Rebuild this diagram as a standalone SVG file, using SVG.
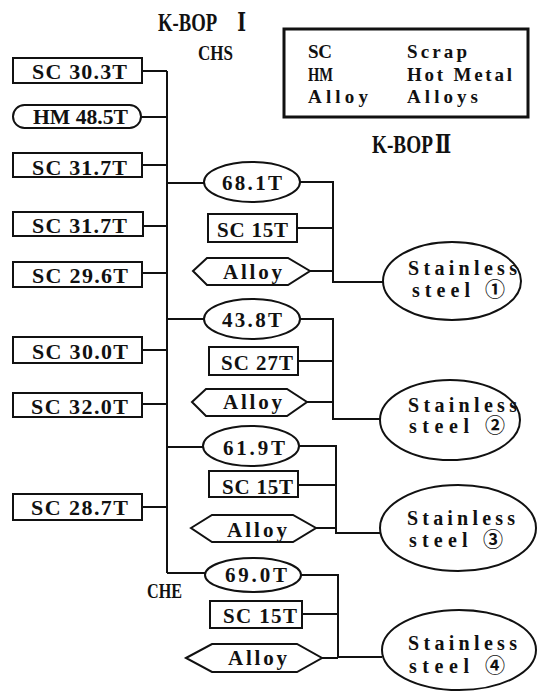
<svg xmlns="http://www.w3.org/2000/svg" width="540" height="693" viewBox="0 0 540 693">
  <style>
    .bg { fill: #ffffff; }
    .shape { fill: #ffffff; stroke: #111111; stroke-width: 2; }
    .legend { fill: #ffffff; stroke: #111111; stroke-width: 3; }
    .wire { fill: none; stroke: #111111; stroke-width: 2; }
    text { font-family: "Liberation Serif", "DejaVu Serif", "Noto Sans CJK SC", serif; font-weight: bold; fill: #111111; }
    .lbl { font-size: 22px; }
    .mid { font-size: 21px; }
    .big { font-size: 20px; }
    .leg { font-size: 19px; }
    .head { font-size: 26px; }
    .tag { font-size: 20px; }
  </style>
  <rect class="bg" x="0" y="0" width="540" height="693"/>

  <!-- connectors -->
  <g id="connectors">
    <!-- charge trunk -->
    <path class="wire" d="M167 71 V573"/>
    <path class="wire" d="M142 71 H167 M141 117 H167 M142 165 H167 M143 226 H167 M142 273 H167 M142 350 H167 M142 404 H167 M142 507 H167"/>
    <path class="wire" d="M167 183 H204 M167 319 H204 M167 447 H203 M167 573 H205"/>
    <!-- heat 1 -->
    <path class="wire" d="M300 182 H333 V282 H383 M297 228 H333 M310 271 H333"/>
    <!-- heat 2 -->
    <path class="wire" d="M300 319 H333 V419 H380 M298 361 H333 M307 402 H333"/>
    <!-- heat 3 -->
    <path class="wire" d="M299 446 H336 V533 H380 M298 485 H336 M316 528 H336"/>
    <!-- heat 4 -->
    <path class="wire" d="M301 575 H338 V657 H382 M302 614 H338 M322 658 H338"/>
  </g>

  <!-- headings (condensed horizontally) -->
  <g id="titles">
    <text class="head" transform="translate(158 31) scale(0.72 1)" x="0" y="0">K-BOP<tspan x="110">Ⅰ</tspan></text>
    <text class="tag" x="198" y="60" textLength="35" lengthAdjust="spacingAndGlyphs">CHS</text>
    <text class="head" transform="translate(372 153) scale(0.74 1)" x="0" y="0">K-BOP<tspan x="85">Ⅱ</tspan></text>
    <text class="tag" x="147" y="598" textLength="35" lengthAdjust="spacingAndGlyphs">CHE</text>
  </g>

  <!-- legend -->
  <g id="legend">
    <rect class="legend" x="284" y="29" width="244" height="88"/>
    <text class="leg" x="308" y="58" textLength="24">SC</text>
    <text class="leg" x="308" y="81" textLength="25" lengthAdjust="spacingAndGlyphs">HM</text>
    <text class="leg" x="308" y="103" textLength="60">Alloy</text>
    <text class="leg" x="407" y="58" textLength="60">Scrap</text>
    <text class="leg" x="407" y="81" textLength="105">Hot Metal</text>
    <text class="leg" x="407" y="103" textLength="71">Alloys</text>
  </g>

  <!-- charge materials -->
  <g id="sc-30-3">
    <rect class="shape" x="13" y="58" width="129" height="25"/>
    <text class="lbl" x="32" y="79" textLength="95">SC 30.3T</text>
  </g>
  <g id="hm-48-5">
    <rect class="shape" x="13" y="105" width="128" height="23" rx="11.5"/>
    <text class="lbl" x="33" y="124" textLength="95" lengthAdjust="spacingAndGlyphs">HM 48.5T</text>
  </g>
  <g id="sc-31-7a">
    <rect class="shape" x="13" y="153" width="129" height="24"/>
    <text class="lbl" x="32" y="175" textLength="95">SC 31.7T</text>
  </g>
  <g id="sc-31-7b">
    <rect class="shape" x="13" y="212" width="130" height="24"/>
    <text class="lbl" x="32" y="233" textLength="95">SC 31.7T</text>
  </g>
  <g id="sc-29-6">
    <rect class="shape" x="13" y="262" width="129" height="25"/>
    <text class="lbl" x="32" y="283" textLength="96">SC 29.6T</text>
  </g>
  <g id="sc-30-0">
    <rect class="shape" x="13" y="337" width="129" height="26"/>
    <text class="lbl" x="32" y="359" textLength="96">SC 30.0T</text>
  </g>
  <g id="sc-32-0">
    <rect class="shape" x="13" y="393" width="129" height="24"/>
    <text class="lbl" x="31" y="414" textLength="97">SC 32.0T</text>
  </g>
  <g id="sc-28-7">
    <rect class="shape" x="13" y="494" width="129" height="26"/>
    <text class="lbl" x="31" y="515" textLength="97">SC 28.7T</text>
  </g>

  <!-- heat 1 -->
  <g id="hm-68-1">
    <ellipse class="shape" cx="252" cy="182" rx="48" ry="20"/>
    <text class="mid" x="222" y="190" textLength="60">68.1T</text>
  </g>
  <g id="sc-15-a">
    <rect class="shape" x="208" y="214" width="89" height="28"/>
    <text class="mid" x="217" y="237" textLength="71">SC 15T</text>
  </g>
  <g id="alloy-1">
    <polygon class="shape" points="193,271 207,258 288,258 310,271 288,285 207,285"/>
    <text class="mid" x="223" y="279" textLength="59">Alloy</text>
  </g>
  <g id="ss-1">
    <ellipse class="shape" cx="452" cy="281" rx="69" ry="39"/>
    <text class="big" x="408" y="275" textLength="109">Stainless</text>
    <text class="big" x="412" y="297" textLength="93">steel ①</text>
  </g>

  <!-- heat 2 -->
  <g id="hm-43-8">
    <ellipse class="shape" cx="252" cy="319" rx="48" ry="20"/>
    <text class="mid" x="222" y="327" textLength="60">43.8T</text>
  </g>
  <g id="sc-27">
    <rect class="shape" x="209" y="347" width="89" height="28"/>
    <text class="mid" x="221" y="370" textLength="72">SC 27T</text>
  </g>
  <g id="alloy-2">
    <polygon class="shape" points="192,402 206,389 287,389 307,402 287,416 206,416"/>
    <text class="mid" x="223" y="409" textLength="59">Alloy</text>
  </g>
  <g id="ss-2">
    <ellipse class="shape" cx="450" cy="420" rx="70" ry="40"/>
    <text class="big" x="408" y="412" textLength="109">Stainless</text>
    <text class="big" x="409" y="433" textLength="96">steel ②</text>
  </g>

  <!-- heat 3 -->
  <g id="hm-61-9">
    <ellipse class="shape" cx="251" cy="446" rx="48" ry="20"/>
    <text class="mid" x="223" y="455" textLength="62">61.9T</text>
  </g>
  <g id="sc-15-b">
    <rect class="shape" x="209" y="471" width="89" height="26"/>
    <text class="mid" x="222" y="494" textLength="71">SC 15T</text>
  </g>
  <g id="alloy-3">
    <polygon class="shape" points="191,528 212,515 293,515 316,528 293,542 212,542"/>
    <text class="mid" x="227" y="537" textLength="60">Alloy</text>
  </g>
  <g id="ss-3">
    <ellipse class="shape" cx="458" cy="528" rx="78" ry="43"/>
    <text class="big" x="407" y="525" textLength="108">Stainless</text>
    <text class="big" x="409" y="547" textLength="94">steel ③</text>
  </g>

  <!-- heat 4 -->
  <g id="hm-69-0">
    <ellipse class="shape" cx="253" cy="575" rx="48" ry="17"/>
    <text class="mid" x="225" y="582" textLength="62">69.0T</text>
  </g>
  <g id="sc-15-c">
    <rect class="shape" x="210" y="601" width="92" height="27"/>
    <text class="mid" x="223" y="623" textLength="74">SC 15T</text>
  </g>
  <g id="alloy-4">
    <polygon class="shape" points="186,658 212,644 297,644 322,658 297,672 212,672"/>
    <text class="mid" x="228" y="665" textLength="59">Alloy</text>
  </g>
  <g id="ss-4">
    <ellipse class="shape" cx="459" cy="650" rx="77" ry="40"/>
    <text class="big" x="408" y="650" textLength="109">Stainless</text>
    <text class="big" x="409" y="673" textLength="96">steel ④</text>
  </g>
</svg>
